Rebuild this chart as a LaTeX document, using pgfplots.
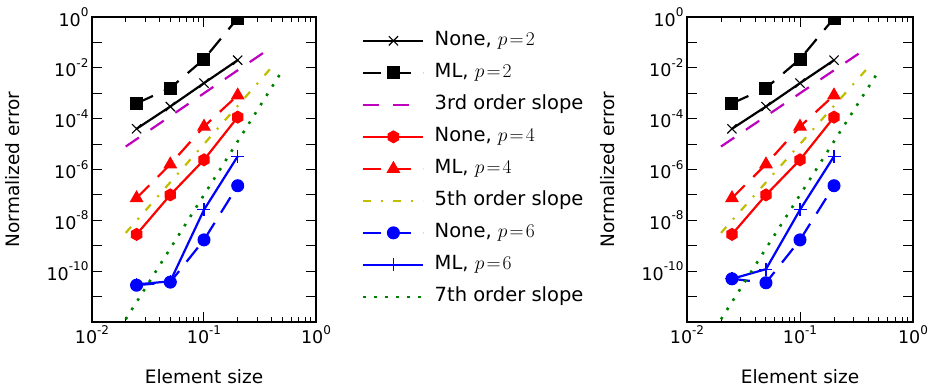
\RequirePackage{fix-cm}
\documentclass[border=0pt]{standalone}
\usepackage[no-math]{fontspec}
\setmainfont{DejaVu Sans}
\usepackage{pgfplots}
\pgfplotsset{compat=1.18}

\definecolor{mplm}{rgb}{0.75,0,0.75}
\definecolor{mply}{rgb}{0.75,0.75,0}
\definecolor{mplg}{rgb}{0,0.5,0}

\pgfdeclareplotmark{hexagon}{%
  \pgfpathmoveto{\pgfpointpolar{90}{\pgfplotmarksize}}%
  \pgfpathlineto{\pgfpointpolar{150}{\pgfplotmarksize}}%
  \pgfpathlineto{\pgfpointpolar{210}{\pgfplotmarksize}}%
  \pgfpathlineto{\pgfpointpolar{270}{\pgfplotmarksize}}%
  \pgfpathlineto{\pgfpointpolar{330}{\pgfplotmarksize}}%
  \pgfpathlineto{\pgfpointpolar{30}{\pgfplotmarksize}}%
  \pgfpathclose\pgfusepathqfillstroke}

\newcommand{\ex}[1]{10\raisebox{9.5pt}{\fontsize{12}{12}\selectfont #1}}

\pgfplotsset{
  every axis/.append style={
    scale only axis, height=305pt,
    xmin=0.01, xmax=1, ymin=1e-12, ymax=1,
    xtick={0.01,0.1,1}, xticklabels={\ex{-2},\ex{-1},\ex{0}},
    ytick={1e-11,1e-10,1e-9,1e-8,1e-7,1e-6,1e-5,1e-4,1e-3,1e-2,1e-1,1},
    yticklabels={{},{\ex{-10}},{},{\ex{-8}},{},{\ex{-6}},{},{\ex{-4}},{},{\ex{-2}},{},{\ex{0}}},
    yminorticks=false,
    tick align=inside,
    major tick length=10pt, minor tick length=5pt,
    every tick/.style={black, line width=1pt},
    axis line style={line width=2.5pt},
    ticklabel style={font=\fontsize{17.5}{21}\selectfont},
    xlabel={Element size}, ylabel={Normalized error},
    xlabel style={at={(axis description cs:0.5,-0.18)}, anchor=center, font=\fontsize{18.5}{22}\selectfont},
    ylabel style={at={(axis description cs:-0.353,0.5)}, anchor=center, font=\fontsize{18.5}{22}\selectfont},
    clip marker paths=true,
  },
  every axis plot/.append style={line width=2.2pt},
  mynoneA/.style={black, solid, mark=x, mark size=6.5pt, mark options={line width=1.1pt}},
  mymlA/.style={black, dash pattern=on 18pt off 12pt, mark=square*, mark size=6pt, mark options={solid, line width=1pt}},
  myslA/.style={mplm, dash pattern=on 16pt off 14pt, no marks},
  mynoneB/.style={red, solid, mark=hexagon, mark size=6pt, mark options={line width=1pt}},
  mymlB/.style={red, dash pattern=on 18pt off 12pt, mark=triangle*, mark size=7pt, mark options={solid, line width=1pt}},
  myslB/.style={mply, dash pattern=on 8pt off 10pt on 2pt off 10pt, no marks},
  mynoneC/.style={blue, dash pattern=on 18pt off 12pt, mark=*, mark size=6pt, mark options={solid, line width=1pt}},
  mymlC/.style={blue, solid, mark=+, mark size=6.5pt, mark options={line width=1.1pt}},
  myslC/.style={mplg, line width=2.6pt, dash pattern=on 2.6pt off 8.4pt, no marks},
}

\begin{document}
\begin{tikzpicture}
\useasboundingbox (0,0) rectangle (930pt,388pt);

\begin{loglogaxis}[width=224pt, at={(92pt,66pt)}, anchor=south west,
  legend style={at={(axis description cs:1.205,0.952)}, anchor=north west,
    draw=none, fill=none, inner sep=0pt, row sep=14pt, column sep=10pt,
    font=\fontsize{19.5}{22}\selectfont,
    nodes={inner sep=0pt, text height=14pt, text depth=4pt}},
  legend cell align=left,
  legend image code/.code={\draw[mark repeat=2,mark phase=2] plot coordinates {(0pt,0pt)(30pt,0pt)(60pt,0pt)};},
]
\addplot[mynoneA] coordinates {(0.025,4e-5)(0.05,3e-4)(0.1,2.5e-3)(0.2,2e-2)};
\addlegendentry{None, $p\!=\!2$}
\addplot[mymlA] coordinates {(0.025,4e-4)(0.05,1.6e-3)(0.1,2.2e-2)(0.2,0.9)};
\addlegendentry{ML, $p\!=\!2$}
\addplot[myslA] coordinates {(0.02,8e-6)(0.4,0.064)};
\addlegendentry{3rd order slope}
\addplot[mynoneB] coordinates {(0.025,2.8e-9)(0.05,1e-7)(0.1,2.4e-6)(0.2,1.15e-4)};
\addlegendentry{None, $p\!=\!4$}
\addplot[mymlB] coordinates {(0.025,7.5e-8)(0.05,1.6e-6)(0.1,4.9e-5)(0.2,8.3e-4)};
\addlegendentry{ML, $p\!=\!4$}
\addplot[myslB] coordinates {(0.02,3.2e-9)(0.4,1.024e-2)};
\addlegendentry{5th order slope}
\addplot[mynoneC] coordinates {(0.025,2.8e-11)(0.05,3.7e-11)(0.1,1.7e-9)(0.2,2.3e-7)};
\addlegendentry{None, $p\!=\!6$}
\addplot[mymlC] coordinates {(0.025,3e-11)(0.05,4e-11)(0.1,2.6e-8)(0.2,3.3e-6)};
\addlegendentry{ML, $p\!=\!6$}
\addplot[myslC] coordinates {(0.02,1.28e-12)(0.5,7.8e-3)};
\addlegendentry{7th order slope}
\end{loglogaxis}

\begin{loglogaxis}[width=226pt, at={(687pt,66pt)}, anchor=south west,
  ylabel style={at={(axis description cs:-0.35,0.5)}, anchor=center}]
\addplot[mynoneA] coordinates {(0.025,4e-5)(0.05,3e-4)(0.1,2.5e-3)(0.2,2e-2)};
\addplot[mymlA] coordinates {(0.025,4e-4)(0.05,1.6e-3)(0.1,2.2e-2)(0.2,0.9)};
\addplot[myslA] coordinates {(0.02,8e-6)(0.4,0.064)};
\addplot[mynoneB] coordinates {(0.025,2.8e-9)(0.05,1e-7)(0.1,2.4e-6)(0.2,1.15e-4)};
\addplot[mymlB] coordinates {(0.025,7.5e-8)(0.05,1.6e-6)(0.1,4.9e-5)(0.2,8.3e-4)};
\addplot[myslB] coordinates {(0.02,3.2e-9)(0.4,1.024e-2)};
\addplot[mynoneC] coordinates {(0.025,5e-11)(0.05,3.5e-11)(0.1,1.7e-9)(0.2,2.3e-7)};
\addplot[mymlC] coordinates {(0.025,5e-11)(0.05,1.2e-10)(0.1,2.6e-8)(0.2,3.3e-6)};
\addplot[myslC] coordinates {(0.02,1.28e-12)(0.5,7.8e-3)};
\end{loglogaxis}
\end{tikzpicture}
\end{document}
